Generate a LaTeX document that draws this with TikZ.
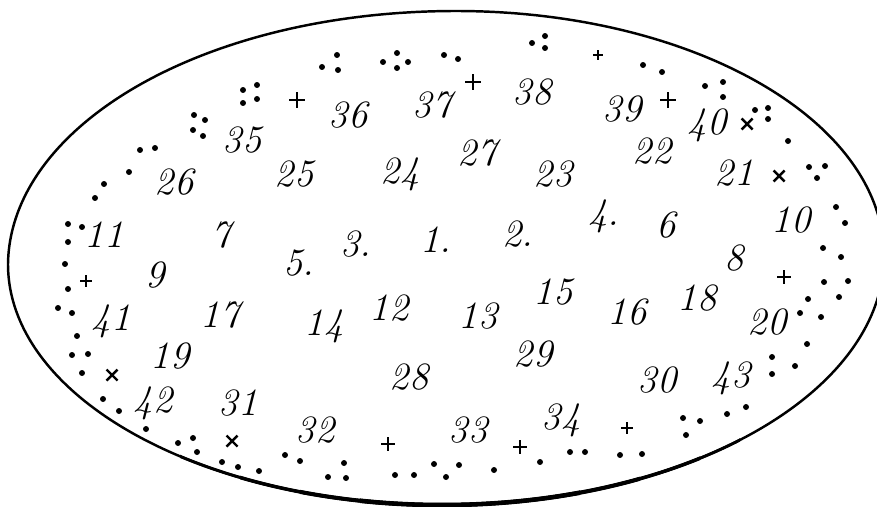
\documentclass[tikz,border=0pt]{standalone}
\usepackage{tikz}
\usetikzlibrary{calc}

\tikzset{
  num/.style={font=\fontsize{11}{13}\selectfont\itshape, inner sep=0pt},
  rim/.style={line width=0.7pt},
}

\begin{document}
\begin{tikzpicture}[x=0.01cm, y=-0.01cm]
    \clip (0,0) rectangle (877,506);
    \coordinate (L) at (8,264);
    \coordinate (T) at (456,11);
    \coordinate (R) at (884,256);
    \coordinate (B) at (442,505);
    % outline
    \draw[rim] (L) .. controls (10,125) and (205,11) .. (T)
        .. controls (692,11) and (884,120) .. (R)
        .. controls (884,393) and (687,505) .. (B)
        .. controls (203,505) and (8,398) .. cycle;
    % heavier ink along the bottom
    \foreach \w/\xa/\xb in {0.85/180/740, 1.0/240/700, 1.15/300/640, 1.3/360/580}{
        \begin{scope}
            \clip (\xa,300) rectangle (\xb,506);
            \draw[line width=\w pt] (R) .. controls (884,393) and (687,505) .. (B)
                .. controls (203,505) and (8,398) .. (L);
        \end{scope}
    }

    % numbers
    \node[num] (n1) at (436,240) {1.};
    \node[num] (n2) at (518,234) {2.};
    \node[num] (n3) at (356,244) {3.};
    \node[num] (n4) at (604,216) {4.};
    \node[num] (n5) at (299,263) {5.};
    \node[num] (n6) at (666,225) {6};
    \node[num] (n7) at (221,235) {7};
    \node[num] (n8) at (734,258) {8};
    \node[num] (n9) at (155,275) {9};
    \node[num] (n10) at (791,220) {10};
    \node[num] (n11) at (104,235) {11};
    \node[num] (n12) at (389,308) {12};
    \node[num] (n13) at (478,316) {13};
    \node[num] (n14) at (324,326) {14};
    \node[num] (n15) at (553,292) {15};
    \node[num] (n16) at (627,312) {16};
    \node[num] (n17) at (220,315) {17};
    \node[num] (n18) at (697,298) {18};
    \node[num] (n19) at (170,356) {19};
    \node[num] (n20) at (767,322) {20};
    \node[num] (n21) at (734,173) {21};
    \node[num] (n22) at (652,151) {22};
    \node[num] (n23) at (553,174) {23};
    \node[num] (n24) at (400,174) {24};
    \node[num] (n25) at (294,174) {25};
    \node[num] (n26) at (174,182) {26};
    \node[num] (n27) at (477,153) {27};
    \node[num] (n28) at (409,377) {28};
    \node[num] (n29) at (533,354) {29};
    \node[num] (n30) at (657,380) {30};
    \node[num] (n31) at (238,403) {31};
    \node[num] (n32) at (315,430) {32};
    \node[num] (n33) at (468,430) {33};
    \node[num] (n34) at (561,420) {34};
    \node[num] (n35) at (242,140) {35};
    \node[num] (n36) at (348,115) {36};
    \node[num] (n37) at (432,105) {37};
    \node[num] (n38) at (532,92) {38};
    \node[num] (n39) at (622,109) {39};
    \node[num] (n40) at (707,125) {40};
    \node[num] (n41) at (111,321) {41};
    \node[num] (n42) at (153,403) {42};
    \node[num] (n43) at (731,378) {43};

    % plus signs
    \foreach \p/\r in {(297,100)/8, (473,82)/8, (668,100)/8, (598,55)/5, (86,281)/6, (784,277)/7, (388,444)/7, (520,447)/7, (627,428)/6}
        \draw[line width=0.7pt] \p +(-\r,0) -- +(\r,0) +(0,-\r) -- +(0,\r);
    % crosses
    \foreach \p in {(747,124), (779,176), (112,375), (232,441)}
        \draw[line width=0.7pt] \p +(-5.5,-5.5) -- +(5.5,5.5) +(-5.5,5.5) -- +(5.5,-5.5);

    % dots
    \foreach \p in {(68,224), (82,227), (68,242), (95,198), (104,184), (129,172), (140,150), (155,148),
        (194,115), (205,120), (193,130), (203,136), (243,90), (257,85), (243,103), (257,99),
        (322,67), (337,55), (338,70), (383,62), (397,53), (397,68), (408,62), (444,55), (458,59),
        (532,43), (545,36), (545,48), (643,65), (662,72), (705,86), (723,82), (723,97),
        (755,110), (768,108), (768,119), (788,141), (809,167), (825,166), (817,178),
        (836,207), (845,223), (823,248), (841,257), (824,282), (848,281), (808,299), (839,297),
        (800,313), (821,317), (807,344), (772,357), (772,374), (795,366), (727,414), (746,407),
        (683,418), (700,421), (686,435), (620,455), (642,454), (570,452), (585,452), (540,462),
        (494,470), (434,464), (446,477), (459,465), (395,475), (414,475), (344,463), (328,477), (346,478),
        (285,455), (300,461), (222,462), (238,467), (259,471), (178,443), (193,438), (197,452),
        (146,429), (103,399), (119,411), (82,373), (72,355), (88,354), (77,336), (58,308), (72,313),
        (68,289), (65,264)}
        \fill \p circle (0.85pt);
\end{tikzpicture}
\end{document}
